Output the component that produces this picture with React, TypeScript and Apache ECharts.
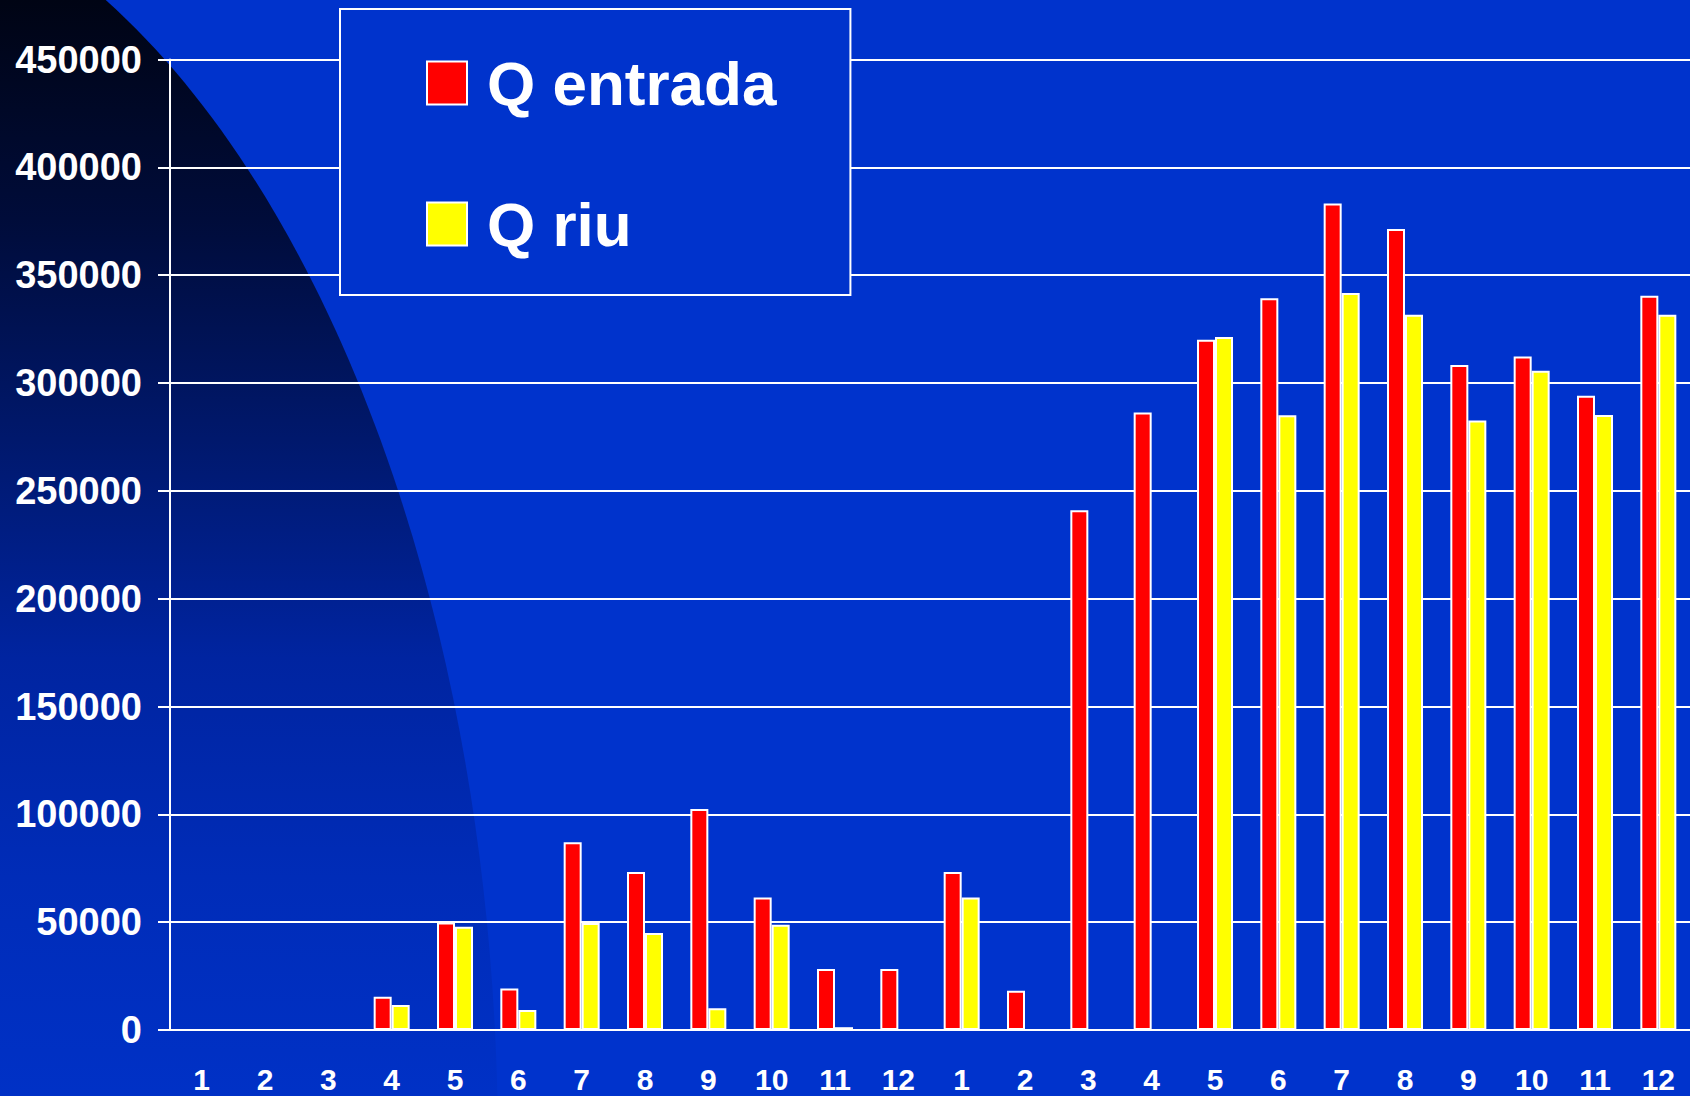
import React, { useEffect, useRef } from "react";
import * as echarts from "echarts";

const categories = ["1","2","3","4","5","6","7","8","9","10","11","12","1","2","3","4","5","6","7","8","9","10","11","12"];
const qEntrada = [0,0,0,15400,49800,19300,87000,73300,102500,61400,28300,28300,73300,18200,241000,286300,320000,339300,383200,371400,308300,312300,294100,340400];
const qRiu = [0,0,0,11600,47900,9300,49600,45000,10100,48800,1300,0,61400,0,0,0,321300,285100,341700,331600,282600,305700,285200,331600];
const yTicks = { min: 0, max: 450000, interval: 50000 };

const FONT = "'Liberation Sans', Arial, sans-serif";

export default function App() {
  const ref = useRef<HTMLDivElement>(null);
  useEffect(() => {
    if (!ref.current) return;
    const chart = echarts.init(ref.current, null, { renderer: "svg" });
    chart.setOption({
      animation: false,
      backgroundColor: "#0033cc",
      textStyle: { fontFamily: FONT },
      graphic: [
        {
          type: "ellipse",
          silent: true,
          z: -10,
          shape: { cx: -202, cy: 1150, rx: 700, ry: 1280 },
          style: {
            fill: {
              type: "linear",
              x: 0, y: 0, x2: 0, y2: 1096,
              global: true,
              colorStops: [
                { offset: 0, color: "#000414" },
                { offset: 0.2, color: "#000c3a" },
                { offset: 0.4, color: "#00186c" },
                { offset: 0.6, color: "#0024a0" },
                { offset: 0.8, color: "#002cb8" },
                { offset: 1, color: "#0031c6" },
              ],
            },
          },
        },
      ],
      legend: {
        orient: "vertical",
        left: 340,
        top: 9,
        padding: [43, 74, 40, 86],
        itemGap: 79,
        itemWidth: 40,
        itemHeight: 43,
        backgroundColor: "#0033cc",
        borderColor: "#ffffff",
        borderWidth: 2,
        icon: "rect",
        textStyle: {
          color: "#ffffff",
          fontSize: 62,
          fontWeight: "bold",
          fontFamily: FONT,
          padding: [0, 0, 0, 15],
        },
        data: ["Q entrada", "Q riu"],
      },
      grid: { left: 170, right: 0, top: 59.5, bottom: 66, containLabel: false },
      xAxis: {
        type: "category",
        data: categories,
        boundaryGap: true,
        axisLine: { lineStyle: { color: "#ffffff", width: 2 } },
        axisTick: { inside: true, length: 12, lineStyle: { color: "#ffffff", width: 2 } },
        axisLabel: {
          color: "#ffffff",
          fontSize: 30,
          fontWeight: "bold",
          fontFamily: FONT,
          lineHeight: 28,
          margin: 35,
          interval: 0,
        },
      },
      yAxis: {
        type: "value",
        min: yTicks.min,
        max: yTicks.max,
        interval: yTicks.interval,
        axisLine: { show: true, lineStyle: { color: "#ffffff", width: 2 } },
        axisTick: { show: true, inside: false, length: 12, lineStyle: { color: "#ffffff", width: 2 } },
        splitLine: { show: true, lineStyle: { color: "#ffffff", width: 2 } },
        axisLabel: {
          color: "#ffffff",
          fontSize: 38,
          fontWeight: "bold",
          fontFamily: FONT,
          margin: 28,
          formatter: (v: number) => String(v),
        },
      },
      series: [
        {
          name: "Q entrada",
          type: "bar",
          data: qEntrada,
          barWidth: 18,
          barGap: "0%",
          itemStyle: { color: "#ff0000", borderColor: "#ffffff", borderWidth: 2 },
        },
        {
          name: "Q riu",
          type: "bar",
          data: qRiu,
          barWidth: 18,
          barGap: "0%",
          itemStyle: { color: "#ffff00", borderColor: "#ffffff", borderWidth: 2 },
        },
      ],
    });
    return () => chart.dispose();
  }, []);
  return (
    <div
      ref={ref}
      style={{ position: "absolute", left: 0, top: 0, width: 1690, height: 1096 }}
    />
  );
}
